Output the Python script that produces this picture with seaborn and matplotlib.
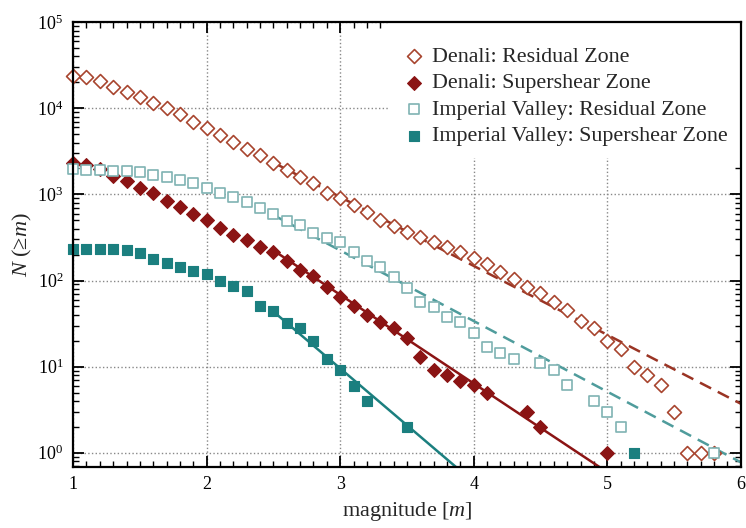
import numpy as np
import pandas as pd
import matplotlib
matplotlib.use("Agg")
import matplotlib.pyplot as plt
import seaborn as sns
from matplotlib.ticker import LogLocator, MultipleLocator, NullFormatter, FixedLocator

# ---------------- data ----------------
dr_m = [1.0, 1.1, 1.2, 1.3, 1.4, 1.5, 1.6, 1.7, 1.8, 1.9, 2.0, 2.1, 2.2, 2.3, 2.4, 2.5,
        2.6, 2.7, 2.8, 2.9, 3.0, 3.1, 3.2, 3.3, 3.4, 3.5, 3.6, 3.7, 3.8, 3.9, 4.0, 4.1,
        4.2, 4.3, 4.4, 4.5, 4.6, 4.7, 4.8, 4.9, 5.0, 5.1, 5.2, 5.3, 5.4, 5.5, 5.6, 5.7, 5.8]
dr_n = [24000, 23000, 20500, 17800, 15500, 13400, 11500, 10000, 8500, 6900, 5900, 4900,
        4050, 3330, 2840, 2300, 1900, 1580, 1340, 1050, 920, 750, 620, 500, 430, 363, 320,
        278, 245, 213, 182, 155, 125, 105, 85, 71, 56, 46, 34, 28, 20, 16, 9.8, 8, 6.1,
        3.0, 1, 1, 1]

ds_m = [1.0, 1.1, 1.2, 1.3, 1.4, 1.5, 1.6, 1.7, 1.8, 1.9, 2.0, 2.1, 2.2, 2.3, 2.4, 2.5,
        2.6, 2.7, 2.8, 2.9, 3.0, 3.1, 3.2, 3.3, 3.4, 3.5, 3.6, 3.7, 3.8, 3.9, 4.0, 4.1,
        4.4, 4.5, 5.0]
ds_n = [2300, 2180, 1960, 1620, 1420, 1180, 1030, 830, 710, 600, 500, 410, 335, 295, 245,
        212, 170, 132, 112, 84, 64, 50, 40, 33, 28, 21.5, 12.9, 9.2, 8, 6.9, 6.1, 5.0,
        3, 2, 1]

ir_m = [1.0, 1.1, 1.2, 1.3, 1.4, 1.5, 1.6, 1.7, 1.8, 1.9, 2.0, 2.1, 2.2, 2.3, 2.4, 2.5,
        2.6, 2.7, 2.8, 2.9, 3.0, 3.1, 3.2, 3.3, 3.4, 3.5, 3.6, 3.7, 3.8, 3.9, 4.0, 4.1,
        4.2, 4.3, 4.5, 4.6, 4.7, 4.9, 5.0, 5.1, 5.8]
ir_n = [1950, 1900, 1900, 1880, 1860, 1820, 1670, 1580, 1470, 1340, 1200, 1050, 930, 810,
        690, 590, 490, 440, 360, 310, 277, 213, 170, 142, 110, 83, 57, 49, 38, 33, 24.5,
        17, 14.4, 12.2, 11, 9.1, 6.1, 4, 3, 2, 1]

is_m = [1.0, 1.1, 1.2, 1.3, 1.4, 1.5, 1.6, 1.7, 1.8, 1.9, 2.0, 2.1, 2.2, 2.3, 2.4, 2.5,
        2.6, 2.7, 2.8, 2.9, 3.0, 3.1, 3.2, 3.5, 5.2]
is_n = [230, 230, 230, 230, 225, 210, 176, 160, 142, 128, 118, 98, 86, 75, 50, 44, 32, 28,
        20, 12.2, 9.1, 6.0, 4.0, 2.0, 1]

labels = ["Denali: Residual Zone", "Denali: Supershear Zone",
          "Imperial Valley: Residual Zone", "Imperial Valley: Supershear Zone"]

# Gutenberg-Richter fits: log10 N = a - b m, drawn from m_start to m_end
fit_a = [5.37, 4.925, 4.81, 4.94]
fit_b = [0.80, 1.03, 0.82, 1.32]
fit_m0 = [2.5, 2.5, 2.5, 2.5]
fit_m1 = [6.0, 5.0, 6.0, 4.0]

x_ticks = [1, 2, 3, 4, 5, 6]

# ---------------- style ----------------
sns.set_style("ticks")
plt.rcParams['font.family'] = ['Liberation Serif', 'DejaVu Serif']
plt.rcParams['mathtext.fontset'] = 'custom'
plt.rcParams['mathtext.rm'] = 'Liberation Serif'
plt.rcParams['mathtext.it'] = 'Liberation Serif:italic'

c_dr = "#a8452f"
c_ds = "#8b1414"
c_ir = "#7fb3b3"
c_is = "#1b7f7f"
c_dr_line = "#9a3424"
c_ir_line = "#4f9c9c"

fig = plt.figure(figsize=(7.46, 5.28), dpi=100)
ax = fig.add_axes([0.098, 0.116, 0.895, 0.842])
ax.set_yscale("log")

# fit lines
fit_styles = [(c_dr_line, (0, (5, 3))), (c_ds, '-'), (c_ir_line, (0, (5, 3))), (c_is, '-')]
for a, b, m0, m1, (col, ls) in zip(fit_a, fit_b, fit_m0, fit_m1, fit_styles):
    mm = np.linspace(m0, m1, 50)
    fit_df = pd.DataFrame({"m": mm, "N": 10 ** (a - b * mm)})
    sns.lineplot(data=fit_df, x="m", y="N", ax=ax, color=col, linestyle=ls,
                 linewidth=1.8, zorder=2)

dfs = [pd.DataFrame({"m": dr_m, "N": dr_n}), pd.DataFrame({"m": ds_m, "N": ds_n}),
       pd.DataFrame({"m": ir_m, "N": ir_n}), pd.DataFrame({"m": is_m, "N": is_n})]

sns.scatterplot(data=dfs[0], x="m", y="N", ax=ax, marker="D", s=50,
                facecolor="white", edgecolor=c_dr, linewidth=1.2, label=labels[0], zorder=3,
                clip_on=False)
sns.scatterplot(data=dfs[1], x="m", y="N", ax=ax, marker="D", s=50,
                facecolor=c_ds, edgecolor=c_ds, linewidth=0.8, label=labels[1], zorder=3,
                clip_on=False)
sns.scatterplot(data=dfs[2], x="m", y="N", ax=ax, marker="s", s=44,
                facecolor="white", edgecolor=c_ir, linewidth=1.2, label=labels[2], zorder=3,
                clip_on=False)
sns.scatterplot(data=dfs[3], x="m", y="N", ax=ax, marker="s", s=44,
                facecolor=c_is, edgecolor=c_is, linewidth=0.8, label=labels[3], zorder=3,
                clip_on=False)

ax.set_xlim(1, 6)
ax.set_ylim(10 ** -0.162, 1e5)
ax.xaxis.set_major_locator(FixedLocator(x_ticks))
ax.set_xticklabels([str(t) for t in x_ticks])
ax.xaxis.set_minor_locator(MultipleLocator(0.1))
ax.yaxis.set_major_locator(LogLocator(base=10, numticks=10))
ax.yaxis.set_minor_locator(LogLocator(base=10, subs=np.arange(2, 10), numticks=20))
ax.yaxis.set_minor_formatter(NullFormatter())

ax.tick_params(which='both', direction='in', top=True, right=True, colors='black',
               labelsize=13, pad=7)
ax.tick_params(which='major', length=8, width=1.3)
ax.tick_params(which='minor', length=4, width=1.0)
for sp in ax.spines.values():
    sp.set_linewidth(1.6)
    sp.set_color('black')
    sp.set_zorder(6)

ax.grid(True, which='major', linestyle=':', color='#888888', linewidth=1.0)
ax.set_axisbelow(True)

ax.set_xlabel(r"magnitude [$\mathit{m}$]", fontsize=16, labelpad=5)
ax.set_ylabel(r"$\mathit{N}$ (≥$\mathit{m}$)", fontsize=16, labelpad=2)

leg = ax.legend(loc="upper right", bbox_to_anchor=(1.0, 1.0), fontsize=15.8,
                frameon=True, fancybox=False, framealpha=1.0, edgecolor='white',
                borderaxespad=0.05, handletextpad=0.25, labelspacing=0.28,
                borderpad=0.55, markerscale=1.0, handlelength=1.15,
                title=" ", title_fontsize=5)
leg.get_frame().set_linewidth(0)
leg.set_zorder(5)

fig.savefig("out.png", dpi=100, facecolor="white")
